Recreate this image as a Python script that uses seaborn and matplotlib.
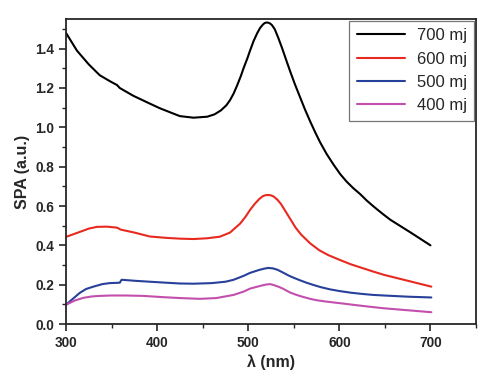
import pandas as pd
import matplotlib.pyplot as plt
import matplotlib.ticker as ticker
import seaborn as sns

# ── DATA ──────────────────────────────────────────────────────────────────────

x_700 = [300, 312, 325, 337, 348, 356, 359, 374, 390, 403, 415, 425, 440, 455, 463, 470,
         476, 480, 484, 488, 492, 495, 499, 502, 506, 510, 513, 516, 518, 520, 522, 524,
         526, 529, 533, 537, 542, 546, 551, 557, 562, 568, 574, 579, 586, 594, 601, 608,
         615, 623, 630, 638, 647, 656, 667, 678, 689, 700]
y_700 = [1.48, 1.39, 1.32, 1.265, 1.235, 1.215, 1.20, 1.16, 1.125, 1.097, 1.075, 1.057,
         1.049, 1.054, 1.066, 1.086, 1.112, 1.138, 1.172, 1.215, 1.262, 1.302, 1.35, 1.39,
         1.44, 1.48, 1.505, 1.522, 1.53, 1.533, 1.532, 1.528, 1.52, 1.5, 1.455, 1.405,
         1.338, 1.285, 1.222, 1.152, 1.094, 1.03, 0.97, 0.923, 0.865, 0.808, 0.762, 0.724,
         0.692, 0.66, 0.628, 0.596, 0.562, 0.53, 0.498, 0.466, 0.433, 0.40]

x_600 = [300, 315, 325, 334, 345, 356, 360, 375, 392, 410, 425, 440, 455, 469, 480, 491,
         497, 502, 507, 512, 516, 519, 522, 525, 528, 532, 536, 540, 546, 552, 558, 568,
         578, 588, 601, 613, 625, 637, 649, 662, 675, 688, 701]
y_600 = [0.443, 0.468, 0.485, 0.494, 0.495, 0.49, 0.48, 0.465, 0.445, 0.438, 0.434, 0.432,
         0.436, 0.444, 0.465, 0.51, 0.545, 0.58, 0.61, 0.635, 0.65, 0.655, 0.656, 0.654,
         0.648, 0.632, 0.61, 0.58, 0.535, 0.49, 0.455, 0.41, 0.375, 0.35, 0.325, 0.303,
         0.285, 0.267, 0.25, 0.235, 0.22, 0.205, 0.19]

x_500 = [300, 308, 315, 322, 330, 340, 348, 359, 361, 375, 392, 410, 425, 440, 460, 475,
         484, 495, 502, 512, 518, 522, 527, 532, 538, 545, 550, 557, 564, 572, 580, 590,
         601, 613, 625, 637, 649, 662, 675, 688, 701]
y_500 = [0.098, 0.13, 0.158, 0.178, 0.19, 0.203, 0.208, 0.21, 0.225, 0.22, 0.215, 0.21,
         0.206, 0.205, 0.208, 0.215, 0.225, 0.245, 0.26, 0.275, 0.282, 0.285, 0.283, 0.276,
         0.262, 0.245, 0.235, 0.222, 0.21, 0.198, 0.187, 0.176, 0.167, 0.159, 0.153, 0.148,
         0.145, 0.142, 0.139, 0.137, 0.135]

x_400 = [300, 310, 319, 328, 337, 350, 365, 385, 405, 425, 447, 465, 484, 495, 502, 510,
         516, 520, 524, 528, 533, 538, 546, 553, 560, 568, 575, 584, 593, 606, 620, 635,
         649, 662, 675, 688, 701]
y_400 = [0.098, 0.12, 0.133, 0.14, 0.143, 0.145, 0.145, 0.143, 0.137, 0.132, 0.128, 0.132,
         0.148, 0.165, 0.18, 0.19, 0.197, 0.201, 0.203, 0.198, 0.19, 0.18, 0.16, 0.148,
         0.138, 0.128, 0.121, 0.115, 0.11, 0.103, 0.095, 0.087, 0.08, 0.075, 0.07, 0.065,
         0.06]

labels = ["700 mj", "600 mj", "500 mj", "400 mj"]
colors = ["#000000", "#e8291f", "#27409a", "#c24fae"]

# ── SETUP ─────────────────────────────────────────────────────────────────────

sns.set_style("ticks")
plt.rcParams["font.family"] = ["Liberation Sans", "DejaVu Sans"]

df = pd.concat([
    pd.DataFrame({"x": x, "y": y, "series": lab})
    for x, y, lab in zip([x_700, x_600, x_500, x_400],
                         [y_700, y_600, y_500, y_400], labels)
], ignore_index=True)

fig = plt.figure(figsize=(5.0, 3.83), dpi=100)
ax = fig.add_axes([0.132, 0.154, 0.82, 0.796])

sns.lineplot(data=df, x="x", y="y", hue="series", hue_order=labels,
             palette=dict(zip(labels, colors)), sort=False, estimator=None,
             linewidth=1.5, ax=ax)

ax.set_xlim(300, 750)
ax.set_ylim(0, 1.55)
ax.xaxis.set_major_locator(ticker.FixedLocator([300, 400, 500, 600, 700]))
ax.xaxis.set_minor_locator(ticker.MultipleLocator(50))
ax.yaxis.set_major_locator(ticker.MultipleLocator(0.2))
ax.yaxis.set_minor_locator(ticker.MultipleLocator(0.1))
ax.yaxis.set_major_formatter(ticker.FormatStrFormatter("%.1f"))
ax.tick_params(which="major", length=5, width=1.2, labelsize=9.8)
ax.tick_params(which="minor", length=3, width=1.0)
for lab in ax.get_xticklabels() + ax.get_yticklabels():
    lab.set_fontweight("bold")
for sp in ax.spines.values():
    sp.set_linewidth(1.3)

ax.set_xlabel("λ (nm)", fontsize=11.5, fontweight="bold", labelpad=3)
ax.set_ylabel("SPA (a.u.)", fontsize=11.5, fontweight="bold", labelpad=4)

leg = ax.legend(loc="upper right", fontsize=12, frameon=True, fancybox=False,
                edgecolor="#555555", borderaxespad=0.1, handlelength=2.9,
                handletextpad=0.7, labelspacing=0.5, borderpad=0.45)
leg.get_frame().set_linewidth(0.9)

plt.savefig("out.png", dpi=100)
plt.close()
